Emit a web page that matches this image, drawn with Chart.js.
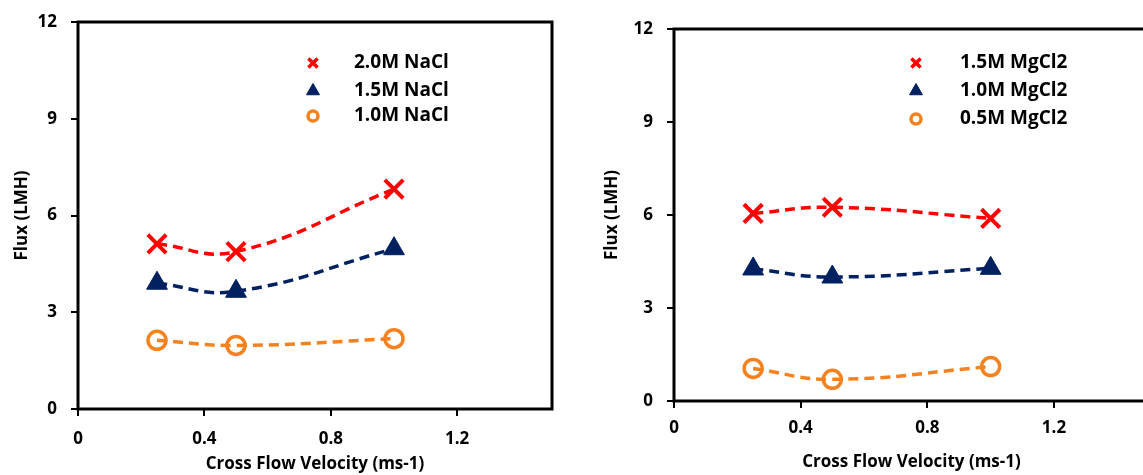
<!DOCTYPE html>
<html>
<head>
<meta charset="utf-8">
<script src="https://cdn.jsdelivr.net/npm/chart.js@4.4.1/dist/chart.umd.min.js"></script>
<style>
  html, body { margin: 0; padding: 0; background: #fff; }
  body { width: 1143px; height: 475px; overflow: hidden; position: relative; }
  #leftBox { position: absolute; left: 0; top: 0; }
  #rightBox { position: absolute; left: 580px; top: 0; }
</style>
</head>
<body>
<div id="leftBox"><canvas id="naclChart" width="560" height="475"></canvas></div>
<div id="rightBox"><canvas id="mgChart" width="580" height="475"></canvas></div>
<script>
// data
const velocity = [0.25, 0.5, 1.0];

const naclLabels = ["2.0M NaCl", "1.5M NaCl", "1.0M NaCl"];
const nacl20 = [5.12, 4.88, 6.82];
const nacl15 = [3.9, 3.65, 4.97];
const nacl10 = [2.13, 1.97, 2.18];

const mgLabels = ["1.5M MgCl2", "1.0M MgCl2", "0.5M MgCl2"];
const mg15 = [6.05, 6.25, 5.89];
const mg10 = [4.26, 4.0, 4.28];
const mg05 = [1.05, 0.7, 1.11];

const xTicks = [0, 0.4, 0.8, 1.2];
const yTicks = [0, 3, 6, 9, 12];

const RED = "#FF0000";
const NAVY = "#002060";
const ORANGE = "#F5821F";

const crossStyle = { shape: "crossRot", color: RED, fill: RED, radius: 13, width: 4, legendRadius: 6.5, legendWidth: 3.5 };
const triStyle = { shape: "triangle", color: NAVY, fill: NAVY, radius: 12, width: 1, legendRadius: 7.5, legendWidth: 1 };
const ringStyle = { shape: "circle", color: ORANGE, fill: "rgba(0,0,0,0)", radius: 9, width: 3.5, legendRadius: 5, legendWidth: 3.5 };

const FONT = '"Open Sans", "DejaVu Sans", sans-serif';

function points(values) {
  return velocity.map((v, i) => ({ x: v, y: values[i] }));
}

function markerSet(label, values, st) {
  return {
    label: label,
    data: points(values),
    showLine: false,
    order: 0,
    pointStyle: st.shape,
    pointRadius: st.radius,
    pointHoverRadius: st.radius,
    pointBorderWidth: st.width,
    pointBorderColor: st.color,
    pointBackgroundColor: st.fill,
    borderColor: st.color,
    backgroundColor: st.fill,
    legendMarker: st,
  };
}

function trendSet(values, st) {
  return {
    trend: true,
    data: points(values),
    showLine: true,
    order: 1,
    pointRadius: 0,
    pointHoverRadius: 0,
    borderColor: st.color,
    borderWidth: 3.5,
    borderDash: [10, 6],
    tension: 0.45,
    fill: false,
  };
}

// frame round the plot area and the legend inside it
const frameLegend = {
  id: "frameLegend",
  beforeDatasetsDraw(chart) {
    const a = chart.chartArea;
    const ctx = chart.ctx;
    ctx.save();
    ctx.lineWidth = 3;
    ctx.strokeStyle = "#000";
    ctx.strokeRect(a.left, a.top, a.right - a.left, a.bottom - a.top);
    ctx.restore();
  },
  afterDatasetsDraw(chart, args, opts) {
    const a = chart.chartArea;
    const ctx = chart.ctx;
    const sets = chart.data.datasets.filter((d) => !d.trend);
    ctx.save();
    sets.forEach((d, i) => {
      const y = a.top + opts.rows[i];
      const st = d.legendMarker;
      ctx.strokeStyle = st.color;
      ctx.fillStyle = st.fill;
      ctx.lineWidth = st.legendWidth;
      if (Chart.helpers && Chart.helpers.drawPoint) {
        Chart.helpers.drawPoint(
          ctx,
          { pointStyle: st.shape, radius: st.legendRadius, rotation: 0, borderWidth: st.legendWidth },
          a.left + opts.markerX,
          y
        );
      }
      ctx.fillStyle = "#000";
      ctx.font = "bold 19px " + FONT;
      ctx.textBaseline = "middle";
      ctx.textAlign = "left";
      ctx.fillText(d.label, a.left + opts.textX, y);
    });
    ctx.restore();
  },
};

function makeScales(cfg) {
  const tickFont = { family: FONT, size: 17, weight: "bold" };
  const titleFont = { family: FONT, size: 17, weight: "bold" };
  const grid = { drawOnChartArea: false, drawTicks: true, tickLength: 7, lineWidth: 2, color: "#000" };
  return {
    x: {
      type: "linear",
      min: 0,
      max: 1.5,
      afterBuildTicks: (s) => { s.ticks = xTicks.map((v) => ({ value: v })); },
      afterFit: (s) => {
        s.height = cfg.xHeight;
        s.paddingLeft = 0;
        s.paddingRight = 0;
      },
      ticks: { padding: cfg.xPad, font: tickFont, color: "#000", autoSkip: false, maxRotation: 0, callback: (v) => String(v) },
      grid: grid,
      border: { display: false },
      title: { display: true, text: "Cross Flow Velocity (ms-1)", color: "#000", font: titleFont, padding: { top: 0, bottom: cfg.xTitlePad } },
    },
    y: {
      type: "linear",
      min: 0,
      max: 12,
      afterBuildTicks: (s) => { s.ticks = yTicks.map((v) => ({ value: v })); },
      afterFit: (s) => {
        s.width = cfg.yWidth;
        s.paddingTop = 0;
        s.paddingBottom = 0;
      },
      ticks: { padding: 14, font: tickFont, color: "#000", autoSkip: false, callback: (v) => String(v) },
      grid: grid,
      border: { display: false },
      title: { display: true, text: "Flux (LMH)", color: "#000", font: titleFont, padding: { top: cfg.yTitlePad, bottom: 0 } },
    },
  };
}

function makeChart(id, labels, series, cfg) {
  const styles = [crossStyle, triStyle, ringStyle];
  const datasets = [];
  series.forEach((vals, i) => datasets.push(markerSet(labels[i], vals, styles[i])));
  series.forEach((vals, i) => datasets.push(trendSet(vals, styles[i])));
  return new Chart(document.getElementById(id), {
    type: "scatter",
    data: { datasets: datasets },
    options: {
      responsive: false,
      animation: false,
      layout: { autoPadding: false, padding: { top: cfg.top, right: cfg.right, left: 0, bottom: 0 } },
      plugins: {
        legend: { display: false },
        tooltip: { enabled: false },
        frameLegend: cfg.legend,
      },
      scales: makeScales(cfg),
    },
    plugins: [frameLegend],
  });
}

makeChart("naclChart", naclLabels, [nacl20, nacl15, nacl10], {
  top: 22, right: 8, xHeight: 66, yWidth: 78, xPad: 13, xTitlePad: 1, yTitlePad: 12,
  legend: { markerX: 235, textX: 276, rows: [41, 69, 94] },
});

makeChart("mgChart", mgLabels, [mg15, mg10, mg05], {
  top: 29, right: 11, xHeight: 74, yWidth: 94, xPad: 10, xTitlePad: 3, yTitlePad: 22,
  legend: { markerX: 242, textX: 286, rows: [34, 62, 90] },
});
</script>
</body>
</html>
